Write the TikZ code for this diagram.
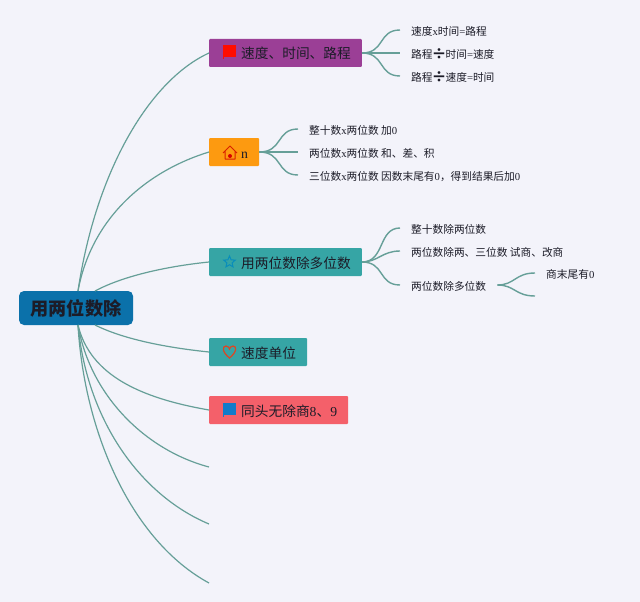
\documentclass[tikz,border=0pt]{standalone}
\usepackage{fontspec}
\usepackage{xcolor}
\setmainfont{Noto Sans CJK SC}
\newfontfamily\latinpart{Liberation Serif}
\newcommand{\lat}[1]{{\latinpart #1}}
\newcommand{\bigdiv}{\makebox[13pt]{\raisebox{-1.5pt}{\fontsize{15}{15}\selectfont\bfseries ÷}}}
\usetikzlibrary{positioning, arrows.meta, shapes.geometric}
\definecolor{pagebg}{HTML}{F3F3FA}
\definecolor{linkcol}{HTML}{669F98}
\definecolor{rootcol}{HTML}{0B71AA}
\definecolor{purplecol}{HTML}{9B3F96}
\definecolor{orangecol}{HTML}{FD9A10}
\definecolor{tealcol}{HTML}{36A5A5}
\definecolor{redcol}{HTML}{F4606A}
\definecolor{inkcol}{HTML}{1C1C28}
\tikzset{
  link/.style={draw=linkcol, line width=1.2pt},
  sublink/.style={draw=linkcol, line width=1.4pt},
  rootbox/.style={rounded corners=5pt, fill=rootcol, text=inkcol, minimum width=114pt, minimum height=34pt, inner sep=0pt, text height=15pt, text depth=0pt, font=\fontsize{18.2}{20}\selectfont\bfseries},
  topicbox/.style={rounded corners=1pt, anchor=west, minimum height=28pt, inner xsep=11pt, inner ysep=0pt, text=inkcol, text height=12pt, text depth=0pt, font=\fontsize{13.7}{16}\selectfont, execute at begin node={\hspace*{21pt}}},
  leaftext/.style={anchor=west, inner xsep=11pt, inner ysep=2pt, text=inkcol, text height=10.6pt, text depth=0pt, font=\fontsize{10.7}{13}\selectfont}
}
\begin{document}
\begin{tikzpicture}[x=1pt, y=-1pt]
        \useasboundingbox[fill=pagebg] (0,0) rectangle (640,602);

        % Define the nodes
        \node[rootbox] (root) at (76,308) {用两位数除};

        \node[topicbox, fill=purplecol] (speed) at (209,53) {速度、时间、路程};
        \node[topicbox, fill=orangecol] (house) at (209,152) {\lat{n}};
        \node[topicbox, fill=tealcol] (multi) at (209,262) {用两位数除多位数};
        \node[topicbox, fill=tealcol] (unit) at (209,352) {速度单位};
        \node[topicbox, fill=redcol] (same) at (209,410) {同头无除商\lat{8}、\lat{9}};

        \coordinate (emptya) at (209,467);
        \coordinate (emptyb) at (209,524);
        \coordinate (emptyc) at (209,583);

        \node[leaftext] (speeda) at (400,30) {速度\lat{x}时间\lat{=}路程};
        \node[leaftext] (speedb) at (400,53) {路程\bigdiv 时间\lat{=}速度};
        \node[leaftext] (speedc) at (400,76) {路程\bigdiv 速度\lat{=}时间};

        \node[leaftext] (housea) at (298,129) {整十数\lat{x}两位数 加\lat{0}};
        \node[leaftext] (houseb) at (298,152) {两位数\lat{x}两位数 和、差、积};
        \node[leaftext] (housec) at (298,175) {三位数\lat{x}两位数 因数末尾有\lat{0}，得到结果后加\lat{0}};

        \node[leaftext] (multia) at (400,228) {整十数除两位数};
        \node[leaftext] (multib) at (400,251) {两位数除两、三位数 试商、改商};
        \node[leaftext] (multic) at (400,285) {两位数除多位数};

        \node[leaftext] (tailz) at (535,273) {商末尾有\lat{0}};
        \coordinate (tailempty) at (535,296);

        % Start points on the root
        \coordinate (rootup) at (78,291);
        \coordinate (rootupr) at (95,291);
        \coordinate (rootdn) at (78,325);
        \coordinate (rootdnr) at (95,325);

        % Define the edges
        \draw[link] (rootup) .. controls (96,170) and (150,80) .. (speed.west);
        \draw[link] (rootup) .. controls (92,215) and (150,170) .. (house.west);
        \draw[link] (rootupr) .. controls (125,275) and (170,266) .. (multi.west);
        \draw[link] (rootdnr) .. controls (125,340) and (170,348) .. (unit.west);
        \draw[link] (rootdn) .. controls (90,375) and (140,398) .. (same.west);
        \draw[link] (rootdn) .. controls (90,395) and (145,450) .. (emptya);
        \draw[link] (rootdn) .. controls (87,420) and (140,495) .. (emptyb);
        \draw[link] (rootdn) .. controls (84,430) and (130,540) .. (emptyc);

        \draw[sublink] (speed.east) .. controls (385,53) and (378,30) .. (speeda.west);
        \draw[sublink] (speed.east) -- (speedb.west);
        \draw[sublink] (speed.east) .. controls (385,53) and (378,76) .. (speedc.west);

        \draw[sublink] (house.east) .. controls (283,152) and (276,129) .. (housea.west);
        \draw[sublink] (house.east) -- (houseb.west);
        \draw[sublink] (house.east) .. controls (283,152) and (276,175) .. (housec.west);

        \draw[sublink] (multi.east) .. controls (385,262) and (378,228) .. (multia.west);
        \draw[sublink] (multi.east) .. controls (378,262) and (382,251) .. (multib.west);
        \draw[sublink] (multi.east) .. controls (385,262) and (378,285) .. (multic.west);

        \draw[sublink] (multic.east) .. controls (515,285) and (515,273) .. (tailz.west);
        \draw[sublink] (multic.east) .. controls (515,285) and (515,296) .. (tailempty);

        % Icons
        \fill[red!90!orange] (223,45) rectangle (236,57);
        \fill[red!90!orange] (223,45) rectangle (224,59);
        \draw[red!70!orange!85!black, line width=1pt, line join=round] (223,153) -- (230,146) -- (237,153) (225,151) -- (225,159) -- (235,159) -- (235,151);
        \fill[red!85!black] (230,156) circle (2);
        \node[star, star points=5, star point ratio=2.2, draw=rootcol!80!cyan, fill=tealcol, line width=1pt, minimum size=12pt, inner sep=0pt] (staricon) at (229.5,262) {};
        \draw[red!45!brown, line width=1.2pt] (229.5,358) .. controls (222,352) and (222,346) .. (226,346) .. controls (228,346) and (229.5,348) .. (229.5,349) .. controls (229.5,348) and (231,346) .. (233,346) .. controls (237,346) and (237,352) .. (229.5,358) -- cycle;
        \fill[cyan!60!blue] (223,403) rectangle (236,415);
        \fill[cyan!60!blue] (223,403) rectangle (224,417);
\end{tikzpicture}
\end{document}
